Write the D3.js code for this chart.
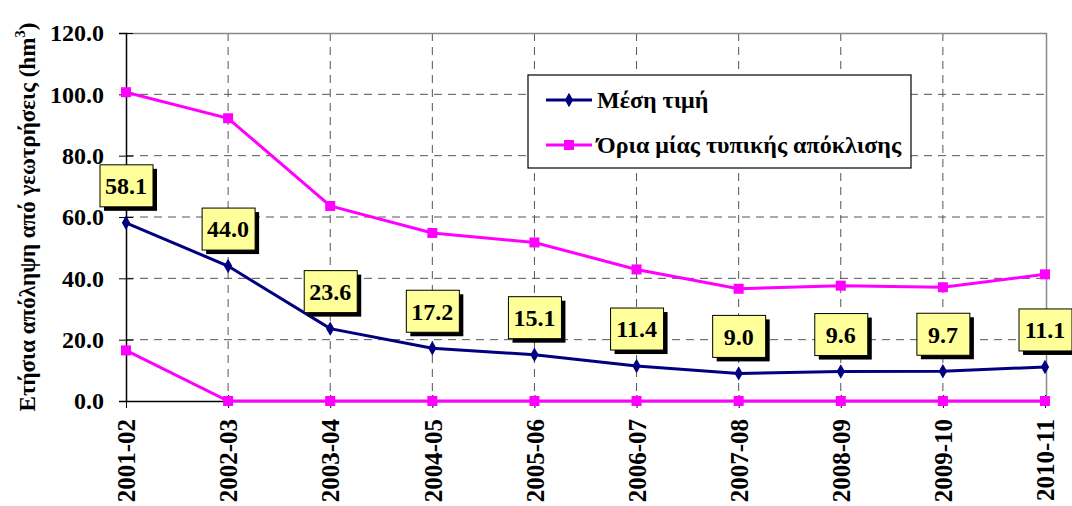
<!DOCTYPE html>
<html>
<head>
<meta charset="utf-8">
<script src="https://cdn.jsdelivr.net/npm/d3@7"></script>
<style>
  body { margin: 0; background: #fff; }
  svg text { font-family: 'Liberation Serif', 'Times New Roman', serif !important; font-weight: bold; fill: #000; }
</style>
</head>
<body>
<svg id="chart" width="1072" height="506"></svg>
<script>
// --- Data ---
const years = ["2001-02", "2002-03", "2003-04", "2004-05", "2005-06", "2006-07", "2007-08", "2008-09", "2009-10", "2010-11"];
const meanValues = [58.1, 44.0, 23.6, 17.2, 15.1, 11.4, 9.0, 9.6, 9.7, 11.1];
const upperValues = [100.7, 92.2, 63.6, 54.8, 51.7, 42.9, 36.6, 37.6, 37.1, 41.3];
const lowerValues = [16.5, 0, 0, 0, 0, 0, 0, 0, 0, 0];
const yTicks = [0, 20, 40, 60, 80, 100, 120];
const legendLabels = ["Μέση τιμή", "Όρια μίας τυπικής απόκλισης"];

// --- Layout ---
const plotLeft = 126, plotRight = 1046, plotTop = 33, plotBottom = 401;
const navy = "#000080", magenta = "#ff00ff";

const svg = d3.select("#chart");

const x = d3.scalePoint().domain(years).range([plotLeft, plotRight - 1]);
const y = d3.scaleLinear().domain([0, 120]).range([plotBottom, plotTop]);

// gridlines
svg.append("g")
  .selectAll("line")
  .data(yTicks.filter((t) => t > 0 && t < 120))
  .enter()
  .append("line")
  .attr("x1", plotLeft).attr("x2", plotRight)
  .attr("y1", (d) => y(d)).attr("y2", (d) => y(d))
  .attr("stroke", "#555").attr("stroke-width", 1)
  .attr("stroke-dasharray", "8,6");

svg.append("g")
  .selectAll("line")
  .data(years.slice(1, -1))
  .enter()
  .append("line")
  .attr("x1", (d) => x(d)).attr("x2", (d) => x(d))
  .attr("y1", plotTop).attr("y2", plotBottom)
  .attr("stroke", "#555").attr("stroke-width", 1)
  .attr("stroke-dasharray", "8,6");

// plot border (top, right)
svg.append("path")
  .attr("d", `M${plotLeft},${plotTop + 0.5}H${plotRight + 0.5}V${plotBottom}`)
  .attr("fill", "none").attr("stroke", "#888").attr("stroke-width", 1.5);

// axes
const yAxis = svg.append("g")
  .attr("transform", `translate(${plotLeft},0)`)
  .call(d3.axisLeft(y).tickValues(yTicks).tickFormat(d3.format(".1f")).tickSize(7).tickPadding(15));
yAxis.select(".domain").attr("stroke", "#000").attr("stroke-width", 1.5);
yAxis.selectAll(".tick line").attr("x2", 7).attr("x1", -7).attr("stroke", "#000");
yAxis.selectAll("text").attr("font-size", "24px");

const xAxis = svg.append("g")
  .attr("transform", `translate(0,${plotBottom})`)
  .call(d3.axisBottom(x).tickSize(7).tickSizeOuter(0));
xAxis.select(".domain").attr("stroke", "#000").attr("stroke-width", 1.5);
xAxis.selectAll(".tick line").attr("y1", -6).attr("stroke", "#000");
xAxis.selectAll("text")
  .attr("font-size", "25px")
  .attr("transform", "rotate(-90)")
  .attr("text-anchor", "end")
  .attr("x", -18).attr("y", 0).attr("dy", "0.35em");

// y title
svg.append("text")
  .attr("transform", `translate(35,${(plotTop + plotBottom) / 2}) rotate(-90)`)
  .attr("text-anchor", "middle")
  .attr("font-size", "23px")
  .html('Ετήσια απόληψη από γεωτρήσεις (hm<tspan dy="-10" font-size="15px">3</tspan><tspan dy="10">)</tspan>');

// lines
const line = (vals) => d3.line().x((d, i) => x(years[i])).y((d) => y(d))(vals);

[upperValues, lowerValues].forEach((vals) => {
  svg.append("path").attr("d", line(vals))
    .attr("fill", "none").attr("stroke", magenta).attr("stroke-width", 3);
  svg.append("g").selectAll("rect").data(vals).enter().append("rect")
    .attr("x", (d, i) => x(years[i]) - 5).attr("y", (d) => y(d) - 5)
    .attr("width", 10).attr("height", 10).attr("fill", magenta);
});

svg.append("path").attr("d", line(meanValues))
  .attr("fill", "none").attr("stroke", navy).attr("stroke-width", 3);
svg.append("g").selectAll("path").data(meanValues).enter().append("path")
  .attr("d", d3.symbol(d3.symbolDiamond, 60))
  .attr("transform", (d, i) => `translate(${x(years[i])},${y(d)})`)
  .attr("fill", navy);

// data labels
const labels = svg.append("g").selectAll("g").data(meanValues).enter().append("g")
  .attr("transform", (d, i) => `translate(${x(years[i])},${y(d) - 37})`);
labels.append("rect")
  .attr("x", -22).attr("y", -17).attr("width", 53).attr("height", 42)
  .attr("fill", "#000");
labels.append("rect")
  .attr("x", -26).attr("y", -21).attr("width", 53).attr("height", 42)
  .attr("fill", "#ffff99").attr("stroke", "#000").attr("stroke-width", 1);
labels.append("text")
  .attr("text-anchor", "middle").attr("dy", "0.35em")
  .attr("font-size", "24px")
  .text((d) => d3.format(".1f")(d));

// legend
const legend = svg.append("g").attr("transform", "translate(528,75)");
legend.append("rect").attr("width", 383).attr("height", 93)
  .attr("fill", "#fff").attr("stroke", "#000").attr("stroke-width", 1.2);
const entries = legend.selectAll("g").data(legendLabels).enter().append("g")
  .attr("transform", (d, i) => `translate(0,${25 + i * 45})`);
entries.append("line").attr("x1", 18).attr("x2", 64)
  .attr("stroke", (d, i) => (i ? magenta : navy)).attr("stroke-width", 3);
entries.each(function (d, i) {
  const g = d3.select(this);
  if (i) {
    g.append("rect").attr("x", 36).attr("y", -5).attr("width", 10).attr("height", 10).attr("fill", magenta);
  } else {
    g.append("path").attr("d", d3.symbol(d3.symbolDiamond, 60)).attr("transform", "translate(41,0)").attr("fill", navy);
  }
});
entries.append("text").attr("x", 69).attr("dy", "0.35em")
  .attr("font-size", "24px")
  .text((d) => d);
</script>
</body>
</html>
